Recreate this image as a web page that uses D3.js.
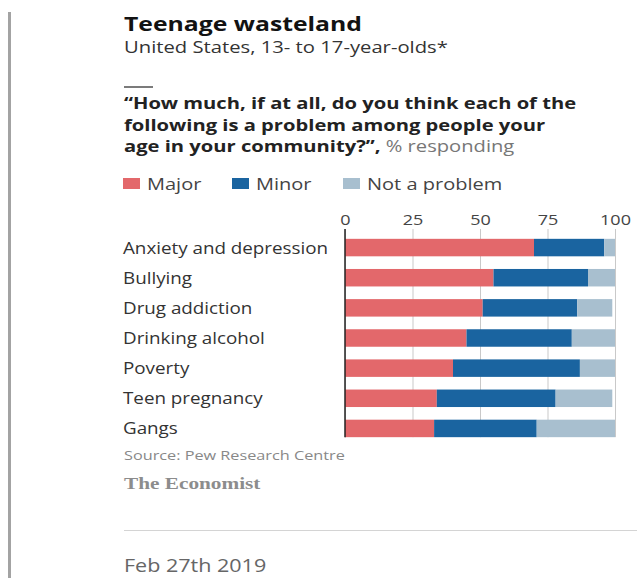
<!DOCTYPE html>
<html>
<head>
<meta charset="utf-8">
<script src="https://cdn.jsdelivr.net/npm/d3@7"></script>
<style>
  html, body { margin: 0; padding: 0; background: #fff; }
  svg { display: block; font-family: "Open Sans", "Noto Sans", sans-serif; }
</style>
</head>
<body>
<svg id="chart" width="637" height="578"></svg>
<script>
// Survey responses, % of US teens aged 13-17
const categories = ["Anxiety and depression", "Bullying", "Drug addiction", "Drinking alcohol", "Poverty", "Teen pregnancy", "Gangs"];
const major = [70, 55, 51, 45, 40, 34, 33];
const minor = [26, 35, 35, 39, 47, 44, 38];
const notAProblem = [4, 10, 13, 16, 13, 21, 29];
const seriesNames = ["Major", "Minor", "Not a problem"];
const tickValues = [0, 25, 50, 75, 100];

const colors = ["#e3686b", "#1a64a0", "#a8bfcf"];
const SX = 1.2; // horizontal stretch applied to the lettering

const svg = d3.select("#chart");

function stext(parent, x, y, str, opts) {
  const t = parent.append("text")
    .attr("transform", `translate(${x},${y}) scale(${opts.sx || SX},1)`)
    .attr("font-size", opts.size)
    .attr("font-weight", opts.weight || 400)
    .attr("fill", opts.fill || "#333")
    .attr("text-anchor", opts.anchor || "start");
  if (opts.family) t.attr("font-family", opts.family);
  t.text(str);
  return t;
}

// left page rule
svg.append("rect").attr("x", 8).attr("y", 12).attr("width", 3).attr("height", 566).attr("fill", "#a3a3a3");

// header
stext(svg, 124, 31, "Teenage wasteland", { size: 19.5, weight: 700, fill: "#121212", sx: 1.27 });
stext(svg, 124, 53, "United States, 13- to 17-year-olds*", { size: 16, fill: "#333", sx: 1.265 });
svg.append("line").attr("x1", 124).attr("x2", 153).attr("y1", 87).attr("y2", 87)
  .attr("stroke", "#333").attr("stroke-width", 1.3);

const q = ["\u201CHow much, if at all, do you think each of the",
           "following is a problem among people your",
           "age in your community?\u201D,"];
q.forEach((line, i) => {
  const t = stext(svg, 124, 109 + i * 21.5, line, { size: 16.8, weight: 700, fill: "#222" });
  if (i === 2) {
    t.append("tspan").attr("font-weight", 400).attr("fill", "#777").text(" % responding");
  }
});

// legend
const legendX = [123, 232, 343];
seriesNames.forEach((name, i) => {
  svg.append("rect").attr("x", legendX[i]).attr("y", 178).attr("width", 17).attr("height", 11)
    .attr("fill", colors[i]);
  stext(svg, legendX[i] + 24, 189.5, name, { size: 16, fill: "#444", sx: 1.25 });
});

// scales
const x = d3.scaleLinear().domain([0, 100]).range([345, 615]);
const y = d3.scaleBand().domain(categories).range([232.5, 443.5]).paddingInner(0.42).paddingOuter(0.21);

const gridTop = 229, gridBottom = y(categories[categories.length - 1]) + y.bandwidth();

// axis with gridlines
const axis = svg.append("g").attr("transform", `translate(0,${gridTop})`)
  .call(d3.axisTop(x).tickValues(tickValues).tickSize(-(gridBottom - gridTop)).tickPadding(4));
axis.select(".domain").remove();
axis.selectAll(".tick line").attr("stroke", "#c9c9c9").attr("stroke-width", 1);
axis.selectAll(".tick text")
  .attr("font-size", 15).attr("fill", "#444")
  .attr("font-family", "\"Open Sans\", sans-serif")
  .attr("transform", `scale(${SX},1)`);

// stacked bars
const rows = categories.map((c, i) => ({ cat: c, Major: major[i], Minor: minor[i], "Not a problem": notAProblem[i] }));
const stack = d3.stack().keys(seriesNames)(rows);

svg.append("g").selectAll("g").data(stack).join("g")
  .attr("fill", (d, i) => colors[i])
  .selectAll("rect").data(d => d).join("rect")
  .attr("x", d => x(d[0]))
  .attr("width", d => x(d[1]) - x(d[0]))
  .attr("y", d => y(d.data.cat))
  .attr("height", y.bandwidth());

// zero line
svg.append("line").attr("x1", x(0)).attr("x2", x(0)).attr("y1", gridTop).attr("y2", gridBottom)
  .attr("stroke", "#222").attr("stroke-width", 1.5);

// category labels
categories.forEach(c => {
  stext(svg, 123, y(c) + y.bandwidth() / 2 + 6, c, { size: 16, fill: "#333", sx: 1.175 });
});

// footer
stext(svg, 124, 460, "Source: Pew Research Centre", { size: 13, fill: "#888", sx: 1.25 });
stext(svg, 124, 489, "The Economist", { size: 16, weight: 700, fill: "#8c8c8c", family: "\"Liberation Serif\", serif", sx: 1.33 });
svg.append("line").attr("x1", 124).attr("x2", 637).attr("y1", 530.5).attr("y2", 530.5)
  .attr("stroke", "#d4d4d4").attr("stroke-width", 1);
stext(svg, 124, 572, "Feb 27th 2019", { size: 17.5, fill: "#666", sx: 1.23 });
</script>
</body>
</html>
